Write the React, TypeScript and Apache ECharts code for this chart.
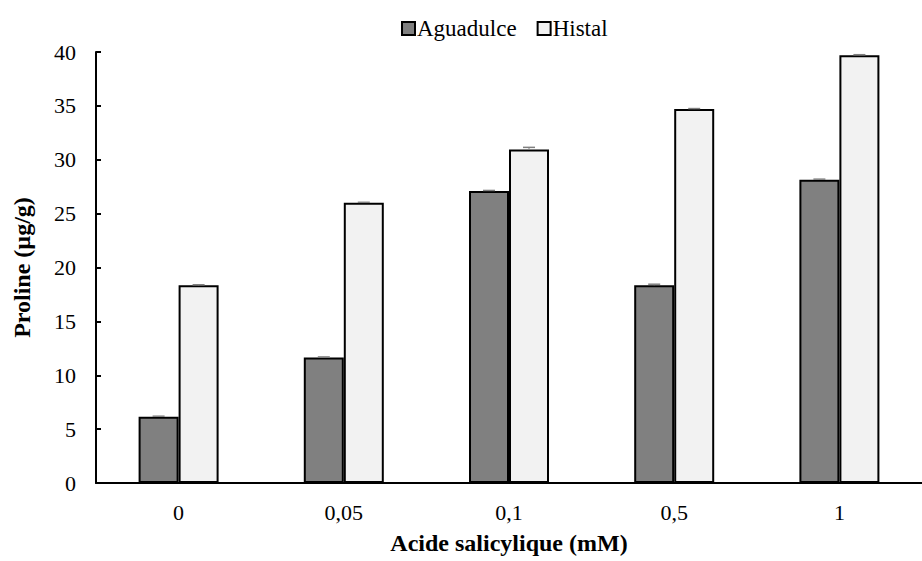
import React, { useEffect, useRef } from "react";
import * as echarts from "echarts";

const categories = ["0", "0,05", "0,1", "0,5", "1"];
const aguadulce = [6.15, 11.65, 27.1, 18.35, 28.15];
const histal = [18.35, 26.0, 30.95, 34.7, 39.7];
const aguadulceErr = [0.05, 0.05, 0.05, 0.1, 0.05];
const histalErr = [0.05, 0.05, 0.2, 0.05, 0.05];
const yTicks = { min: 0, max: 40, interval: 5 };

const FONT = "'Liberation Serif', 'Times New Roman', 'DejaVu Serif', serif";

export default function App() {
  const ref = useRef<HTMLDivElement>(null);
  useEffect(() => {
    if (!ref.current) return;
    const chart = echarts.init(ref.current, undefined, { renderer: "svg" });
    const errData: any[] = [];
    aguadulce.forEach((v, i) => errData.push([i, v, aguadulceErr[i], -20]));
    histal.forEach((v, i) => errData.push([i, v, histalErr[i], 20]));
    chart.setOption({
      animation: false,
      backgroundColor: "#ffffff",
      textStyle: { fontFamily: FONT, color: "#000" },
      legend: {
        data: ["Aguadulce", "Histal"],
        left: 396,
        top: 12,
        itemWidth: 13,
        itemHeight: 13,
        itemGap: 20,
        icon: "rect",
        textStyle: { fontFamily: FONT, fontSize: 23, color: "#000", padding: [0, 0, 0, -3] },
      },
      grid: { left: 96, right: -9, top: 52, bottom: 78, containLabel: false },
      xAxis: {
        type: "category",
        data: categories,
        name: "Acide salicylique (mM)",
        nameLocation: "middle",
        nameGap: 48,
        nameTextStyle: { fontFamily: FONT, fontSize: 24, fontWeight: "bold", color: "#000" },
        axisLine: { lineStyle: { color: "#000", width: 2 } },
        axisTick: { inside: true, length: 5, lineStyle: { color: "#000", width: 2 } },
        axisLabel: { fontFamily: FONT, fontSize: 22, color: "#000", margin: 18 },
      },
      yAxis: {
        type: "value",
        min: yTicks.min,
        max: yTicks.max,
        interval: yTicks.interval,
        name: "Proline (µg/g)",
        nameLocation: "middle",
        nameRotate: 90,
        nameGap: 62,
        nameTextStyle: { fontFamily: FONT, fontSize: 24, fontWeight: "bold", color: "#000" },
        axisLine: { show: true, lineStyle: { color: "#000", width: 2 } },
        axisTick: { show: true, inside: true, length: 5, lineStyle: { color: "#000", width: 2 } },
        axisLabel: { fontFamily: FONT, fontSize: 22, color: "#000", margin: 20 },
        splitLine: { show: false },
      },
      series: [
        {
          name: "Aguadulce",
          type: "bar",
          data: aguadulce,
          barWidth: 40,
          barGap: "0%",
          itemStyle: { color: "#808080", borderColor: "#000", borderWidth: 2 },
        },
        {
          name: "Histal",
          type: "bar",
          data: histal,
          barWidth: 40,
          barGap: "0%",
          itemStyle: { color: "#f2f2f2", borderColor: "#000", borderWidth: 2 },
        },
        {
          name: "err",
          type: "custom",
          data: errData,
          z: 10,
          renderItem: (params: any, api: any) => {
            const idx = api.value(0);
            const v = api.value(1);
            const e = api.value(2);
            const off = api.value(3);
            const top = api.coord([idx, v + e]);
            const base = api.coord([idx, v]);
            const x = top[0] + off;
            return {
              type: "group",
              children: [
                { type: "line", shape: { x1: x, y1: base[1], x2: x, y2: top[1] }, style: { stroke: "#808080", lineWidth: 1 } },
                { type: "line", shape: { x1: x - 6, y1: top[1], x2: x + 6, y2: top[1] }, style: { stroke: "#808080", lineWidth: 1.5 } },
              ],
            };
          },
        },
      ],
    });
    return () => chart.dispose();
  }, []);
  return <div ref={ref} style={{ position: "fixed", left: 0, top: 0, width: 922, height: 561 }} />;
}
